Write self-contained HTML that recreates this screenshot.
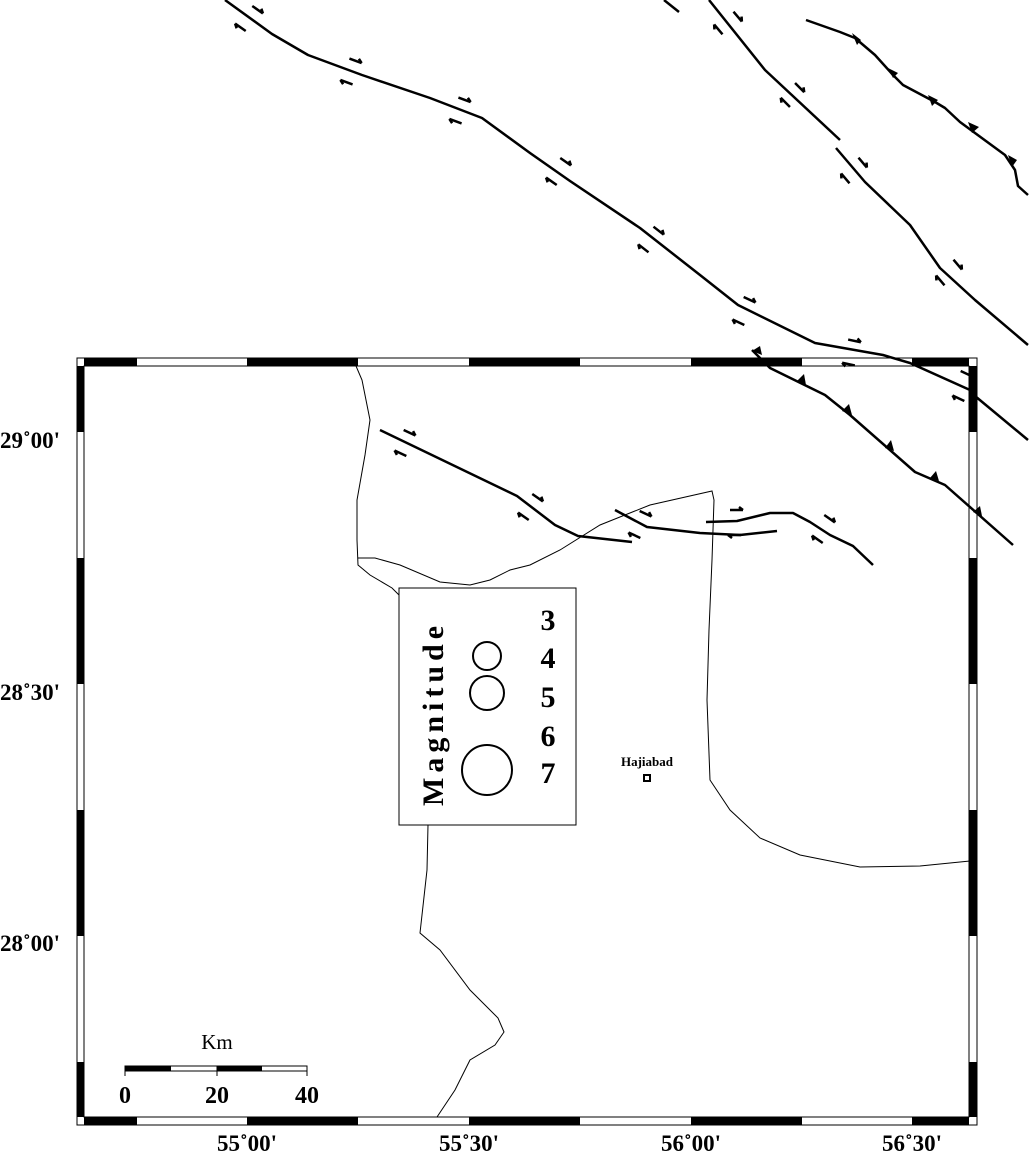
<!DOCTYPE html>
<html><head><meta charset="utf-8"><style>
html,body{margin:0;padding:0;background:#fff}
svg{display:block}
text{font-family:"Liberation Serif",serif;font-weight:bold;fill:#000}
</style></head><body>
<svg width="1030" height="1156" viewBox="0 0 1030 1156" xmlns="http://www.w3.org/2000/svg">
<defs>
<g id="sr"><path d="M-7,0 L6,0 M6,0 L2,-3" stroke="#000" stroke-width="2.5" fill="none"/></g>
<g id="sl"><path d="M7,0 L-6,0 M-6,0 L-2,3" stroke="#000" stroke-width="2.5" fill="none"/></g>
</defs>
<g fill="none" stroke="#000" stroke-width="1">
<path d="M356,366 L362,380 L370,420 L365,455 L357,500 L357,540 L358,565 L370,575 L392,588 L399,595"/>
<path d="M358,558 L375,558 L400,565 L440,582 L470,585 L490,580 L510,570 L530,565 L560,550 L600,525 L650,505 L712,491 L714,500 L712,560 L709,630 L707,700 L710,780 L730,810 L760,838 L800,855 L860,867 L920,866 L970,861"/>
<path d="M428,825 L427,870 L420,933 L440,950 L470,990 L498,1018 L504,1032 L495,1045 L470,1060 L455,1090 L437,1117"/>
</g>
<g fill="none" stroke="#000" stroke-width="2.5" stroke-linejoin="round">
<path d="M225,0 L272,34 L308,55 L362,75 L430,98 L482,118 L530,153 L570,181 L640,228 L700,275 L738,305 L815,343 L883,355 L910,363 L970,390"/>
<path d="M975,396 L1028,440"/>
<path d="M664,0 L679,12"/>
<path d="M709,0 L765,70 L840,140"/>
<path d="M836,148 L865,182 L910,225 L940,268 L975,300 L1028,345"/>
<path d="M806,20 L840,32 L855,38 L875,55 L893,75 L903,85 L935,102 L945,108 L960,122 L1005,155 L1015,170 L1018,186 L1028,195"/>
<path d="M752,350 L770,368 L825,395 L850,415 L915,472 L945,485 L1013,545"/>
<path d="M380,430 L517,496 L555,525 L578,536 L632,542"/>
<path d="M615,510 L647,527 L700,533 L740,535 L777,531"/>
<path d="M706,522 L737,521 L770,513 L793,513 L810,522 L830,535 L853,546 L873,565"/>
</g>
<g fill="#000">
<path d="M852,33 L861,40 L857,45 Z"/><path d="M888,68 L898,73 L893,78 Z"/><path d="M928,95 L938,100 L932,106 Z"/><path d="M968,122 L979,127 L972,133 Z"/><path d="M1008,155 L1017,160 L1012,167 Z"/>
<path d="M752,351 L760,346 L762,355 Z"/><path d="M797,381 L804,374 L806,385 Z"/><path d="M842,411 L849,404 L852,415 Z"/><path d="M885,448 L891,440 L894,451 Z"/><path d="M930,478 L936,471 L939,481 Z"/><path d="M973,512 L980,506 L982,516 Z"/>
</g>
<g>
<use href="#sr" transform="translate(258,10) rotate(35)"/><use href="#sl" transform="translate(240,27) rotate(35)"/>
<use href="#sr" transform="translate(356,61) rotate(20)"/><use href="#sl" transform="translate(346,82) rotate(20)"/>
<use href="#sr" transform="translate(465,100) rotate(20)"/><use href="#sl" transform="translate(455,121) rotate(20)"/>
<use href="#sr" transform="translate(566,162) rotate(35)"/><use href="#sl" transform="translate(551,181) rotate(35)"/>
<use href="#sr" transform="translate(659,231) rotate(38)"/><use href="#sl" transform="translate(643,248) rotate(38)"/>
<use href="#sr" transform="translate(750,300) rotate(25)"/><use href="#sl" transform="translate(738,322) rotate(25)"/>
<use href="#sr" transform="translate(855,341) rotate(12)"/><use href="#sl" transform="translate(848,364) rotate(12)"/>
<use href="#sr" transform="translate(967,374) rotate(25)"/><use href="#sl" transform="translate(958,398) rotate(25)"/>
<use href="#sr" transform="translate(738,17) rotate(50)"/><use href="#sl" transform="translate(718,29) rotate(50)"/>
<use href="#sr" transform="translate(800,88) rotate(45)"/><use href="#sl" transform="translate(785,102) rotate(45)"/>
<use href="#sr" transform="translate(863,163) rotate(50)"/><use href="#sl" transform="translate(845,178) rotate(50)"/>
<use href="#sr" transform="translate(958,265) rotate(50)"/><use href="#sl" transform="translate(940,280) rotate(50)"/>
<use href="#sr" transform="translate(410,433) rotate(25)"/><use href="#sl" transform="translate(400,453) rotate(25)"/>
<use href="#sr" transform="translate(538,498) rotate(35)"/><use href="#sl" transform="translate(523,516) rotate(35)"/>
<use href="#sr" transform="translate(646,514) rotate(25)"/><use href="#sl" transform="translate(634,535) rotate(25)"/>
<use href="#sr" transform="translate(737,510) rotate(0)"/><use href="#sl" transform="translate(734,535) rotate(0)"/>
<use href="#sr" transform="translate(830,519) rotate(35)"/><use href="#sl" transform="translate(817,539) rotate(35)"/>
</g>
<g stroke="#000" stroke-width="1">
<rect x="77" y="358" width="900" height="767" fill="none"/>
<rect x="84" y="366" width="885" height="751" fill="none"/>
</g>
<g fill="#000">
<rect x="84" y="358" width="53" height="8"/><rect x="247" y="358" width="111" height="8"/><rect x="469" y="358" width="111" height="8"/><rect x="691" y="358" width="111" height="8"/><rect x="912" y="358" width="57" height="8"/>
<rect x="84" y="1117" width="53" height="8"/><rect x="247" y="1117" width="111" height="8"/><rect x="469" y="1117" width="111" height="8"/><rect x="691" y="1117" width="111" height="8"/><rect x="912" y="1117" width="57" height="8"/>
<rect x="77" y="366" width="7" height="66"/><rect x="77" y="558" width="7" height="126"/><rect x="77" y="810" width="7" height="126"/><rect x="77" y="1062" width="7" height="55"/>
<rect x="969" y="366" width="8" height="66"/><rect x="969" y="558" width="8" height="126"/><rect x="969" y="810" width="8" height="126"/><rect x="969" y="1062" width="8" height="55"/>
</g>
<g font-size="23">
<text x="0" y="448">29˚00'</text>
<text x="0" y="700">28˚30'</text>
<text x="0" y="951">28˚00'</text>
<text x="247" y="1151" text-anchor="middle">55˚00'</text>
<text x="469" y="1151" text-anchor="middle">55˚30'</text>
<text x="691" y="1151" text-anchor="middle">56˚00'</text>
<text x="912" y="1151" text-anchor="middle">56˚30'</text>
</g>
<rect x="399" y="588" width="177" height="237" fill="#fff" stroke="#000" stroke-width="1"/>
<text transform="translate(443,806) rotate(-90)" font-size="30" letter-spacing="5">Magnitude</text>
<g fill="none" stroke="#000" stroke-width="2">
<circle cx="487" cy="656" r="14"/><circle cx="487" cy="693" r="17"/><circle cx="487" cy="770" r="25"/>
</g>
<g font-size="30" text-anchor="middle">
<text x="548" y="630">3</text><text x="548" y="668">4</text><text x="548" y="707">5</text><text x="548" y="746">6</text><text x="548" y="783">7</text>
</g>
<text x="647" y="766" font-size="13" text-anchor="middle">Hajiabad</text>
<rect x="644" y="775" width="6" height="6" fill="none" stroke="#000" stroke-width="2"/>
<g>
<rect x="125" y="1066" width="182" height="5" fill="#fff" stroke="#000" stroke-width="1"/>
<rect x="125" y="1066" width="46" height="5" fill="#000"/><rect x="217" y="1066" width="45" height="5" fill="#000"/>
<path d="M125,1066 V1076 M217,1066 V1076 M307,1066 V1076" stroke="#000" stroke-width="1"/>
<text x="217" y="1049" font-size="21" text-anchor="middle" style="font-weight:normal">Km</text>
<text x="125" y="1103" font-size="24" text-anchor="middle">0</text>
<text x="217" y="1103" font-size="24" text-anchor="middle">20</text>
<text x="307" y="1103" font-size="24" text-anchor="middle">40</text>
</g>
</svg>
</body></html>
